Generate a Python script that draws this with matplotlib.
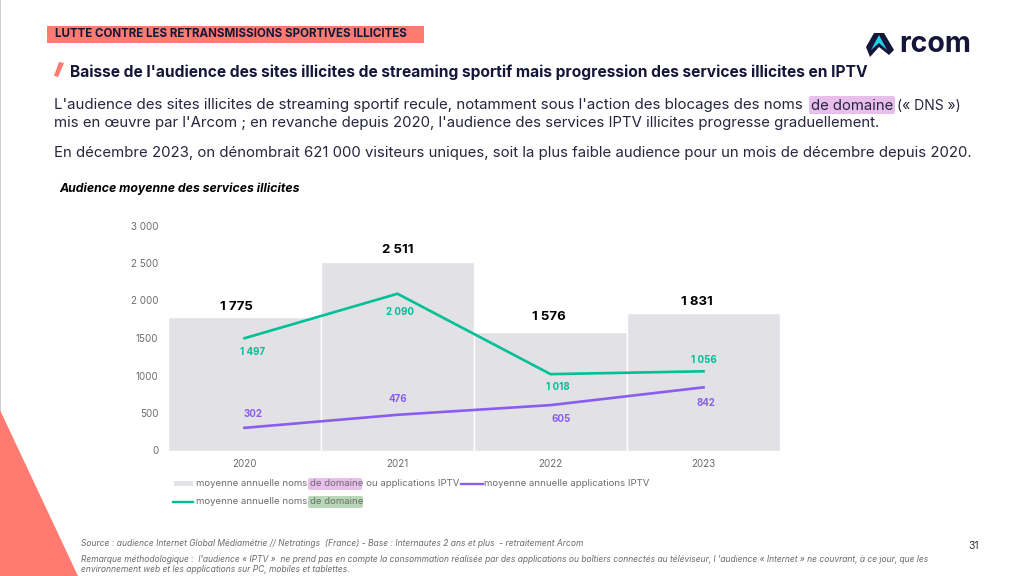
"""Arcom slide: audience moyenne des services illicites."""

import matplotlib.pyplot as plt
from matplotlib.patches import FancyBboxPatch, Polygon, Rectangle

# --- DATA ---
YEARS = ["2020", "2021", "2022", "2023"]
TOTAL = [1775, 2511, 1576, 1831]
DOMAINE = [1497, 2090, 1018, 1056]
IPTV = [302, 476, 605, 842]
TOTAL_LABELS = ["1 775", "2 511", "1 576", "1 831"]
DOMAINE_LABELS = ["1 497", "2 090", "1 018", "1 056"]
IPTV_LABELS = ["302", "476", "605", "842"]
Y_TICKS = [0, 500, 1000, 1500, 2000, 2500, 3000]
Y_TICK_LABELS = ["0", "500", "1000", "1500", "2 000", "2 500", "3 000"]

# --- COLOURS ---
CORAL = "#FF7A70"
NAVY = "#16163A"
BODY = "#26263F"
GREY_BAR = "#E2E2E6"
GREEN = "#00BF96"
PURPLE = "#8B5CF0"
GREY_TEXT = "#6B6B6B"
PINK_HL = "#E8BFEA"
GREEN_HL = "#B9D8B8"

plt.rcParams["font.family"] = ["Inter", "DejaVu Sans"]

fig = plt.figure(figsize=(10.24, 5.76), dpi=100)

# Overlay working in slide pixels
page = fig.add_axes([0, 0, 1, 1])
page.set_xlim(0, 1024)
page.set_ylim(576, 0)
page.axis("off")


def put(x, y, s, size, color=NAVY, weight="normal", style="normal", ha="left"):
    return page.text(x, y, s, fontsize=size, color=color, fontweight=weight,
                     fontstyle=style, ha=ha, va="center")


def highlight(x0, x1, y0, y1, color):
    page.add_patch(FancyBboxPatch((x0 + 2, y0 + 2), x1 - x0 - 4, y1 - y0 - 4,
                                  boxstyle="round,pad=2", fc=color, ec="none", zorder=0))


# Slide decoration
page.add_patch(Rectangle((0, 0), 1.2, 576, fc="#D0D0D0", ec="none"))
page.add_patch(Polygon([(0, 410), (78, 576), (0, 576)], fc=CORAL, ec="none"))
page.add_patch(Rectangle((47, 26), 377, 17, fc=CORAL, ec="none"))
page.add_patch(Polygon([(59, 62), (64, 63), (58, 77), (54, 76)], fc=CORAL, ec="none"))

# Logo
page.add_patch(Polygon([(866, 47), (874, 33), (884, 33), (894, 50), (889, 55),
                        (879, 47), (870, 57)], fc=NAVY, ec="none"))
page.add_patch(Polygon([(871, 50), (879, 35), (887, 50), (879, 43)], fc="#19D3E6", ec="none"))
put(899, 45, "rcom", 20.5, weight="bold")

# Header texts
put(55, 34, "LUTTE CONTRE LES RETRANSMISSIONS SPORTIVES ILLICITES", 8.33, weight="bold")
put(70, 72.5, "Baisse de l'audience des sites illicites de streaming sportif mais "
              "progression des services illicites en IPTV", 11.2, weight="bold")
highlight(809, 895, 96, 114, PINK_HL)
put(54, 105.5, "L'audience des sites illicites de streaming sportif recule, notamment "
               "sous l'action des blocages des noms", 10.88, color=BODY)
put(811, 105.5, "de domaine", 10.7, color=BODY)
put(897, 105.5, "(« DNS »)", 10, color=BODY)
put(54, 122.5, "mis en œuvre par l'Arcom ; en revanche depuis 2020, l'audience des "
               "services IPTV illicites progresse graduellement.", 10.76, color=BODY)
put(54, 153.5, "En décembre 2023, on dénombrait 621 000 visiteurs uniques, soit la plus "
               "faible audience pour un mois de décembre depuis 2020.", 10.77, color=BODY)
put(59, 188.5, "Audience moyenne des services illicites", 8.87, color="black",
    weight="bold", style="italic")

# Chart
ax = fig.add_axes([168 / 1024, (576 - 450.5) / 576, 612 / 1024, 225 / 576])
ax.patch.set_alpha(0)
x_pos = list(range(len(YEARS)))
ax.bar(x_pos, TOTAL, width=1.0, color=GREY_BAR, edgecolor="white", linewidth=1)
ax.plot(x_pos, DOMAINE, color=GREEN, linewidth=1.9)
ax.plot(x_pos, IPTV, color=PURPLE, linewidth=1.9)
ax.set_xlim(-0.5, 3.5)
ax.set_ylim(0, 3000)
ax.set_xticks(x_pos, YEARS, fontsize=7, color=GREY_TEXT)
ax.set_yticks(Y_TICKS, Y_TICK_LABELS, fontsize=7, color=GREY_TEXT)
ax.tick_params(length=0, pad=7)
ax.tick_params(axis="x", pad=6)
for side in ax.spines.values():
    side.set_visible(False)

# Value labels
total_offsets = [(-6, 7.3), (0, 8.7), (-1, 10.8), (-5, 7.9)]
for i, label in enumerate(TOTAL_LABELS):
    ax.annotate(label, (i, TOTAL[i]), xytext=total_offsets[i],
                textcoords="offset points", ha="center", va="center",
                fontsize=9.5, fontweight="bold", color="black")
green_offsets = [(6, -10), (2, -13), (5, -9.4), (0, 8)]
for i, label in enumerate(DOMAINE_LABELS):
    ax.annotate(label, (i, DOMAINE[i]), xytext=green_offsets[i],
                textcoords="offset points", ha="center", va="center",
                fontsize=7, fontweight="bold", color=GREEN)
purple_offsets = [(6, 10), (0, 11.5), (7.5, -10), (1.5, -11)]
for i, label in enumerate(IPTV_LABELS):
    ax.annotate(label, (i, IPTV[i]), xytext=purple_offsets[i],
                textcoords="offset points", ha="center", va="center",
                fontsize=7, fontweight="bold", color=PURPLE)

# Legend with highlighted words
page.add_patch(Rectangle((174, 481), 19, 5, fc=GREY_BAR, ec="none"))
page.plot([173, 193], [501.5, 501.5], color=GREEN, linewidth=1.7)
page.plot([461, 483], [483.5, 483.5], color=PURPLE, linewidth=1.7)
highlight(308, 362, 478, 490, PINK_HL)
highlight(308, 363, 496, 508, GREEN_HL)
put(196, 483.5, "moyenne annuelle noms de domaine ou applications IPTV", 6.9, color=GREY_TEXT)
put(484, 483.5, "moyenne annuelle applications IPTV", 6.9, color=GREY_TEXT)
put(196, 501.5, "moyenne annuelle noms de domaine", 6.9, color=GREY_TEXT)

# Footnotes
put(81, 543, "Source : audience Internet Global Médiamétrie // Netratings  (France) - "
             "Base : Internautes 2 ans et plus  - retraitement Arcom", 6.1,
    color=GREY_TEXT, style="italic")
put(81, 560, "Remarque méthodologique :  l'audience « IPTV »  ne prend pas en compte la "
             "consommation réalisée par des applications ou boîtiers connectés au "
             "téléviseur, l 'audience « Internet » ne couvrant, à ce jour, que les", 6.08,
    color=GREY_TEXT, style="italic")
put(81, 570, "environnement web et les applications sur PC, mobiles et tablettes.", 6.1,
    color=GREY_TEXT, style="italic")
put(968, 546, "31", 7.5, color="#333333")

fig.savefig("out.png", dpi=100)
